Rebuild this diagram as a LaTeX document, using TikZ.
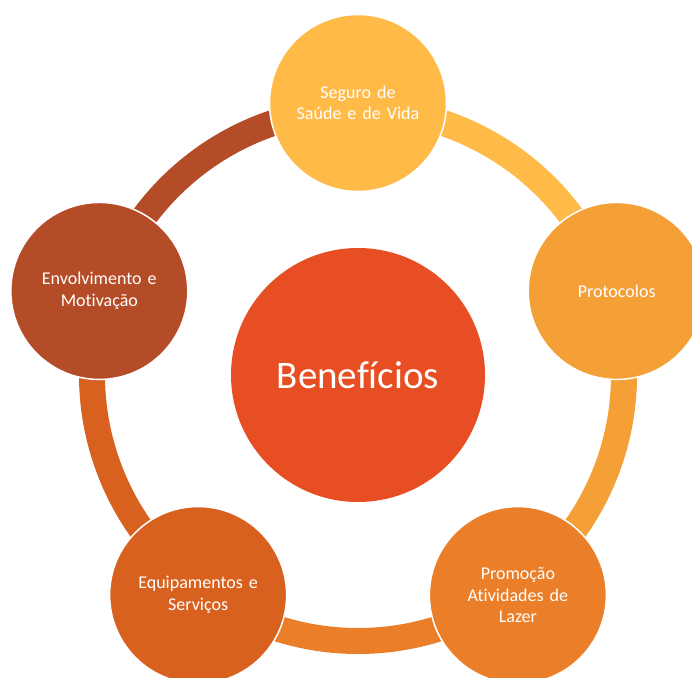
\documentclass[tikz,border=0pt]{standalone}
\usepackage{fontspec}
\setmainfont[Ligatures=NoCommon]{Carlito}
\usetikzlibrary{calc}
\definecolor{cSeg}{HTML}{FFBA48}
\definecolor{cPro}{HTML}{F4A037}
\definecolor{cPrm}{HTML}{EB7F29}
\definecolor{cEqu}{HTML}{D8611F}
\definecolor{cEnv}{HTML}{B54C28}
\definecolor{cCen}{HTML}{E84E23}
\begin{document}
\begin{tikzpicture}[x=1pt,y=1pt,
  outer/.style={circle,minimum size=177pt,inner sep=0pt,draw=white,line width=1.5pt,
    text=white,font=\fontsize{18}{21.5}\selectfont,align=center,text width=150pt},
  centre/.style={circle,minimum size=254pt,inner sep=0pt,fill=cCen,text=white,
    font=\fontsize{39}{44}\selectfont},
  band/.style={line width=26pt,line cap=butt}]
\useasboundingbox (0,0) rectangle (692,-677);
\clip (0,0) rectangle (692,-677);
\coordinate (C) at (358,-375);
% ring segments
\draw[band,cSeg] (C) ++(90:266) arc[start angle=90,end angle=18,radius=266];
\draw[band,cPro] (C) ++(18:266) arc[start angle=18,end angle=-54,radius=266];
\draw[band,cPrm] (C) ++(-54:266) arc[start angle=-54,end angle=-126,radius=266];
\draw[band,cEqu] (C) ++(-126:266) arc[start angle=-126,end angle=-198,radius=266];
\draw[band,cEnv] (C) ++(162:266) arc[start angle=162,end angle=90,radius=266];
% nodes
\node[centre] (ben) at (C) {Benefícios};
\node[outer,fill=cSeg] (seg) at ($(C)+(90:272)$) {Seguro de\\Saúde e de Vida};
\node[outer,fill=cPro] (pro) at ($(C)+(18:272)$) {Protocolos};
\node[outer,fill=cPrm] (prm) at ($(C)+(-54:272)$) {Promoção\\Atividades de\\Lazer};
\node[outer,fill=cEqu] (equ) at ($(C)+(-126:272)$) {Equipamentos e\\Serviços};
\node[outer,fill=cEnv] (env) at ($(C)+(162:272)$) {Envolvimento e\\Motivação};
\end{tikzpicture}
\end{document}
